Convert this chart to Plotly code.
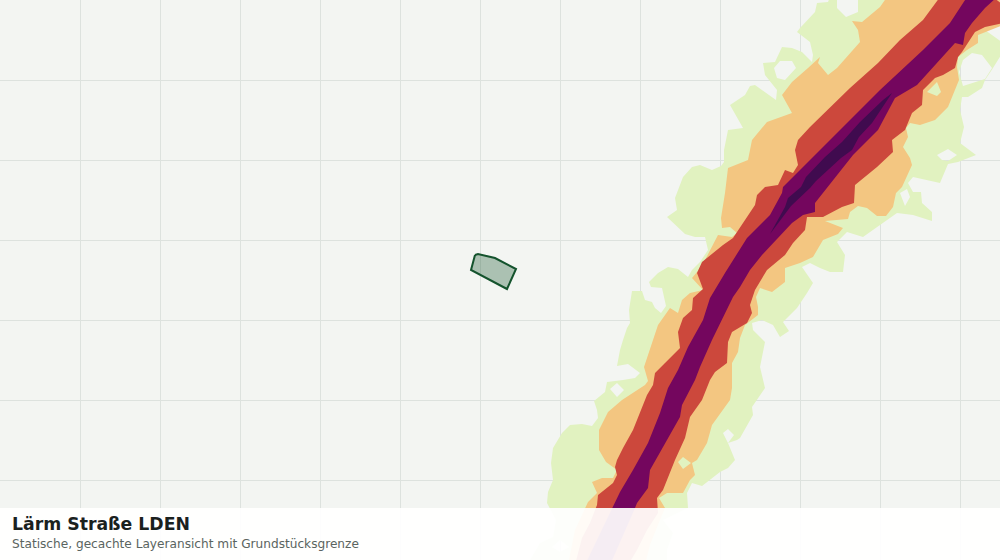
import plotly.graph_objects as go

TITLE = "Lärm Straße LDEN"
SUBTITLE = "Statische, gecachte Layeransicht mit Grundstücksgrenze"

GREEN_OUTER = [(527,565),(540,543),(553,537),(556,520),(547,503),(548,492),(553,480),(551,463),(553,448),(562,433),(570,425),(582,424),(592,426),(598,418),(597,410),(594,401),(605,392),(607,382),(623,380),(635,378),(640,373),(628,364),(617,366),(620,350),(623,340),(627,328),(630,323),(629,310),(632,291),(642,291),(645,300),(652,302),(655,308),(661,313),(666,306),(662,288),(651,287),(649,282),(658,273),(668,267),(678,269),(688,277),(692,270),(700,262),(708,250),(705,237),(695,237),(685,234),(667,217),(677,210),(675,198),(678,190),(683,177),(692,167),(700,165),(712,170),(721,166),(724,162),(724,150),(728,130),(743,128),(730,105),(745,95),(750,86),(755,85),(776,100),(777,90),(765,75),(763,63),(775,62),(782,47),(792,48),(802,52),(812,62),(813,55),(810,42),(797,32),(800,28),(815,12),(817,3),(828,2),(830,-3),(837,-3),(837,8),(846,17),(858,12),(858,-3),(890,-3),(985,30),(1003,43),(1003,52),(993,68),(985,80),(982,88),(968,97),(962,97),(960,110),(964,127),(960,143),(976,155),(958,162),(948,164),(940,183),(913,177),(908,183),(913,192),(921,192),(922,203),(932,212),(932,221),(913,215),(897,213),(880,225),(863,237),(847,232),(837,242),(845,255),(843,272),(830,272),(820,268),(810,263),(802,267),(813,283),(807,293),(797,308),(783,322),(789,331),(780,337),(773,325),(762,320),(752,323),(753,330),(765,342),(760,367),(765,388),(752,407),(753,415),(740,438),(737,440),(728,443),(735,460),(728,468),(720,472),(702,486),(692,483),(687,493),(688,508),(663,520),(673,533),(667,550),(667,565)]
GREEN_HOLES = [
    [(774,68),(780,61),(792,61),(796,68),(785,80),(777,78)],
    [(972,53),(982,55),(992,68),(985,79),(963,86),(959,72),(963,60)],
    [(937,155),(948,149),(957,155),(948,161),(942,160)],
    [(900,193),(907,189),(910,197),(905,206)],
    [(610,389),(617,383),(624,390),(617,397)],
    [(723,433),(728,429),(734,435),(728,443)],
    [(552,547),(560,540),(569,547),(560,552)],
]
ORANGE_OUTER = [(568,565),(575,530),(588,502),(597,493),(592,482),(602,478),(613,478),(617,470),(606,462),(599,450),(599,430),(608,412),(622,400),(645,385),(648,381),(644,367),(653,340),(658,325),(670,308),(678,313),(682,300),(690,293),(703,290),(692,278),(697,272),(705,260),(718,235),(732,237),(737,233),(730,227),(722,228),(721,218),(725,193),(728,168),(748,160),(752,140),(767,122),(792,113),(782,95),(792,82),(808,68),(820,57),(818,63),(828,75),(837,68),(860,42),(858,30),(852,21),(862,22),(880,7),(887,-3),(1003,-3),(1003,25),(978,35),(978,43),(967,50),(958,57),(957,67),(959,80),(955,90),(948,107),(935,120),(920,125),(910,123),(906,128),(908,137),(903,147),(910,158),(912,165),(902,187),(896,193),(893,207),(886,216),(877,216),(867,208),(858,206),(850,212),(848,219),(825,221),(843,228),(838,234),(823,240),(813,257),(800,263),(785,268),(785,282),(772,292),(760,288),(756,297),(758,307),(758,315),(745,325),(740,338),(738,352),(732,363),(732,388),(730,400),(712,425),(707,443),(697,460),(692,463),(695,475),(690,480),(683,493),(667,493),(659,498),(665,508),(660,520),(650,545),(645,565)]
ORANGE_HOLES = [
    [(678,462),(683,457),(691,463),(683,469)],
    [(927,92),(937,82),(941,92),(937,96)],
]
RED_OUTER = [(575,565),(582,538),(590,523),(597,505),(598,495),(613,483),(617,475),(615,467),(617,460),(623,448),(633,430),(640,412),(647,395),(653,385),(655,373),(665,363),(680,348),(678,332),(683,318),(692,310),(693,298),(703,289),(697,273),(702,262),(723,245),(733,238),(737,232),(747,217),(755,205),(757,195),(765,187),(778,185),(785,170),(793,173),(798,165),(795,150),(798,140),(810,127),(830,108),(850,88),(878,63),(900,40),(923,20),(940,-3),(993,-3),(1003,5),(1003,23),(985,27),(975,32),(968,43),(962,52),(958,57),(955,68),(943,75),(935,78),(923,90),(922,105),(912,113),(905,130),(892,140),(893,152),(877,167),(855,185),(854,203),(842,207),(823,217),(807,217),(805,230),(793,243),(785,255),(767,270),(755,290),(750,305),(752,313),(747,323),(732,332),(728,342),(727,363),(715,372),(710,380),(702,400),(690,417),(685,438),(675,460),(663,490),(657,498),(658,513),(647,530),(637,550),(628,565)]
PURPLE_OUTER = [(585,565),(613,507),(620,492),(633,470),(648,443),(660,413),(668,388),(678,370),(688,347),(703,320),(710,298),(725,273),(747,238),(770,215),(782,193),(783,187),(802,168),(825,145),(850,120),(880,90),(923,50),(950,23),(967,-3),(997,-3),(985,8),(972,23),(965,33),(963,45),(955,43),(938,62),(917,85),(895,98),(878,130),(853,155),(815,203),(815,212),(803,215),(792,223),(773,243),(762,255),(750,270),(740,287),(733,297),(723,317),(712,340),(700,367),(695,380),(682,405),(680,417),(667,440),(650,470),(648,488),(637,503),(635,508),(610,565)]
DARK_OUTER = [(770,234),(785,207),(788,198),(801,187),(806,177),(825,157),(842,142),(860,122),(883,100),(892,93),(872,123),(859,137),(852,150),(841,158),(816,181),(810,188),(791,206),(778,224)]
PARCEL = [(475,255),(478,254),(495,258),(516,269),(507,289),(471,270)]


def signed_area(pts):
    return sum(a[0] * b[1] - b[0] * a[1] for a, b in zip(pts, pts[1:] + pts[:1]))


def rings(outer, holes=()):
    xs, ys = [], []
    sign = signed_area(outer) > 0
    for i, ring in enumerate([outer, *holes]):
        pts = list(ring)
        if i and (signed_area(pts) > 0) == sign:
            pts = pts[::-1]
        pts = pts + pts[:1]
        xs += [p[0] for p in pts] + [None]
        ys += [p[1] for p in pts] + [None]
    return xs[:-1], ys[:-1]


fig = go.Figure()
LAYERS = [
    ("Lärm 55", GREEN_OUTER, GREEN_HOLES, "#e1f2c0"),
    ("Lärm 60", ORANGE_OUTER, ORANGE_HOLES, "#f3c681"),
    ("Lärm 65", RED_OUTER, [], "#cc483c"),
    ("Lärm 70", PURPLE_OUTER, [], "#74065e"),
    ("Lärm 75", DARK_OUTER, [], "#400b4f"),
]
for name, outer, holes, colour in LAYERS:
    x, y = rings(outer, holes)
    fig.add_trace(go.Scatter(x=x, y=y, mode="lines", fill="toself", fillcolor=colour,
                             line=dict(width=0, color=colour), name=name, hoverinfo="skip"))

px, py = rings(PARCEL)
fig.add_trace(go.Scatter(x=px, y=py, mode="lines", fill="toself", fillcolor="rgba(20,83,45,0.32)",
                         line=dict(width=2, color="#14532d"), name="Grundstück", hoverinfo="skip"))

axis = dict(showgrid=True, gridcolor="#dde2de", gridwidth=1.3, dtick=80, tick0=0, zeroline=False,
            showticklabels=False, ticks="", showline=False)
fig.update_layout(
    width=1000, height=560, margin=dict(l=0, r=0, t=0, b=0), showlegend=False,
    plot_bgcolor="#f3f5f2", paper_bgcolor="#f3f5f2",
    xaxis=dict(axis, range=[0, 1000], constrain="domain"),
    yaxis=dict(axis, range=[560, 0]),
    shapes=[dict(type="rect", xref="paper", yref="paper", x0=0, x1=1, y0=0, y1=52 / 560,
                 fillcolor="rgba(255,255,255,0.93)", line=dict(width=0), layer="above")],
    annotations=[
        dict(text=f"<b>{TITLE}</b>", xref="paper", yref="paper", x=10 / 1000, y=1 - 523.5 / 560,
             xanchor="left", yanchor="middle", showarrow=False,
             font=dict(family="DejaVu Sans", size=17.3, color="#1a211e")),
        dict(text=SUBTITLE, xref="paper", yref="paper", x=10 / 1000, y=1 - 544 / 560,
             xanchor="left", yanchor="middle", showarrow=False,
             font=dict(family="DejaVu Sans", size=12.15, color="#5a6460")),
    ],
)
fig.write_html("out.html", config=dict(displayModeBar=False),
               post_script="document.body.style.margin='0';")
